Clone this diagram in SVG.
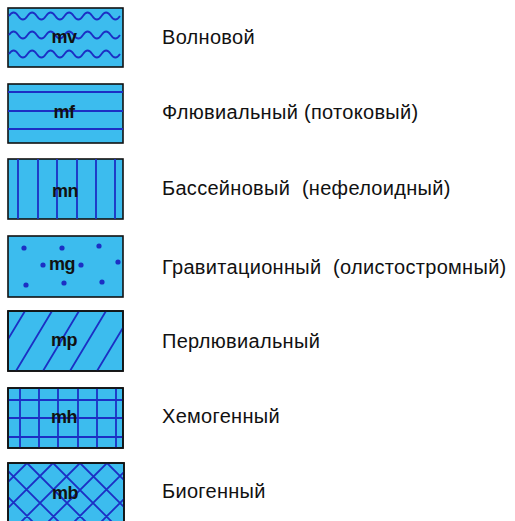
<svg xmlns="http://www.w3.org/2000/svg" width="515" height="521" viewBox="0 0 515 521">
<style>
.box{fill:#3cbcee;stroke:#111;stroke-width:1.6}
.h{stroke:#1c2fc4;stroke-width:1.8;fill:none}
.dot{fill:#1c2fc4}
.code{font-family:"Liberation Sans",Arial,sans-serif;font-size:18px;font-weight:bold;fill:#111;text-anchor:middle;letter-spacing:-0.6px}
.lbl{font-family:"Liberation Sans",Arial,sans-serif;font-size:20px;fill:#111;white-space:pre;letter-spacing:0.3px}
</style>
<defs>
<clipPath id="c5"><rect x="8" y="311" width="115" height="60"/></clipPath>
<clipPath id="c7"><rect x="8" y="463" width="116" height="70"/></clipPath>
</defs>
<rect width="515" height="521" fill="#fff"/>

<g id="mv">
<rect class="box" x="8" y="8" width="115" height="59"/>
<path class="h" d="M9,16 q4.6,-7 9.25,0 t9.25,0 t9.25,0 t9.25,0 t9.25,0 t9.25,0 t9.25,0 t9.25,0 t9.25,0 t9.25,0 t9.25,0 t9.25,0"/>
<path class="h" d="M9,35 q4.6,-7 9.25,0 t9.25,0 t9.25,0 t9.25,0 t9.25,0 t9.25,0 t9.25,0 t9.25,0 t9.25,0 t9.25,0 t9.25,0 t9.25,0"/>
<path class="h" d="M9,54 q4.6,-7 9.25,0 t9.25,0 t9.25,0 t9.25,0 t9.25,0 t9.25,0 t9.25,0 t9.25,0 t9.25,0 t9.25,0 t9.25,0 t9.25,0"/>
<text class="code" x="64" y="43">mv</text>
<text class="lbl" x="162" y="44">Волновой</text>
</g>

<g id="mf">
<rect class="box" x="8" y="84" width="115" height="59"/>
<path class="h" d="M8,92H123M8,111H123M8,129H123"/>
<text class="code" x="64" y="118">mf</text>
<text class="lbl" x="162" y="119">Флювиальный (потоковый)</text>
</g>

<g id="mn">
<rect class="box" x="8" y="159" width="115" height="60"/>
<path class="h" d="M18,159V219M38,159V219M57,159V219M77,159V219M96,159V219M115,159V219"/>
<text class="code" x="65" y="197">mn</text>
<text class="lbl" x="162" y="195">Бассейновый  (нефелоидный)</text>
</g>

<g id="mg">
<rect class="box" x="8" y="236" width="115" height="61"/>
<circle class="dot" cx="24" cy="248" r="2.6"/>
<circle class="dot" cx="62" cy="248" r="2.6"/>
<circle class="dot" cx="99" cy="246" r="2.6"/>
<circle class="dot" cx="43" cy="265" r="2.6"/>
<circle class="dot" cx="81" cy="265" r="2.6"/>
<circle class="dot" cx="118" cy="262" r="2.6"/>
<circle class="dot" cx="26" cy="285" r="2.6"/>
<circle class="dot" cx="64" cy="283" r="2.6"/>
<circle class="dot" cx="102" cy="282" r="2.6"/>
<text class="code" x="62" y="270">mg</text>
<text class="lbl" x="162" y="274">Гравитационный  (олистостромный)</text>
</g>

<g id="mp">
<rect class="box" x="8" y="311" width="115" height="60"/>
<g clip-path="url(#c5)">
<path class="h" d="M25,311l-36,60M52,311l-36,60M79,311l-36,60M106,311l-36,60M133,311l-36,60M160,311l-36,60"/>
</g>
<rect x="8" y="311" width="115" height="60" fill="none" stroke="#111" stroke-width="1.6"/>
<text class="code" x="64" y="346">mp</text>
<text class="lbl" x="162" y="348">Перлювиальный</text>
</g>

<g id="mh">
<rect class="box" x="8" y="388" width="115" height="60"/>
<path class="h" d="M20,388V448M39,388V448M58,388V448M78,388V448M97,388V448M116,388V448M8,400H123M8,418H123M8,437H123"/>
<rect x="8" y="388" width="115" height="60" fill="none" stroke="#111" stroke-width="1.6"/>
<text class="code" x="64" y="423">mh</text>
<text class="lbl" x="162" y="423">Хемогенный</text>
</g>

<g id="mb">
<rect class="box" x="8" y="463" width="116" height="70"/>
<g clip-path="url(#c7)">
<path class="h" d="M-53,463l80,80M-26,463l80,80M0,463l80,80M27,463l80,80M53,463l80,80M80,463l80,80M107,463l80,80M27,463l-80,80M53,463l-80,80M80,463l-80,80M107,463l-80,80M133,463l-80,80M160,463l-80,80M187,463l-80,80"/>
</g>
<rect x="8" y="463" width="116" height="70" fill="none" stroke="#111" stroke-width="1.6"/>
<text class="code" x="65" y="499">mb</text>
<text class="lbl" x="162" y="498">Биогенный</text>
</g>
</svg>
